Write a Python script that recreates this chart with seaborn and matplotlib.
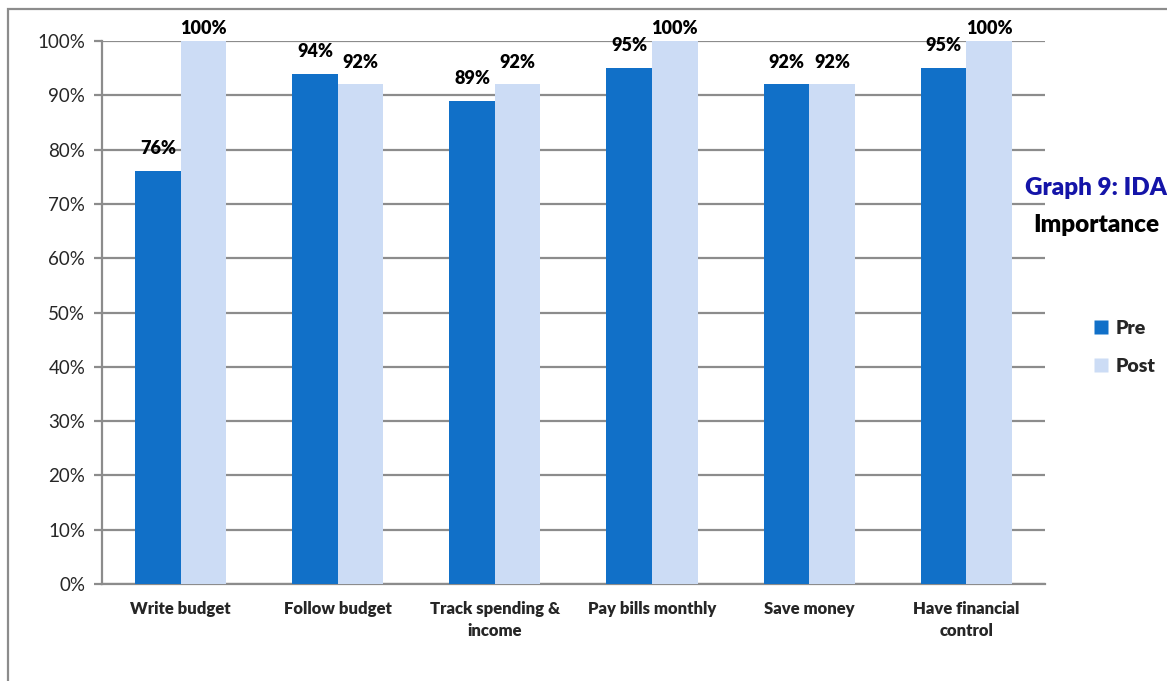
import matplotlib
matplotlib.use("Agg")
import matplotlib.pyplot as plt
from matplotlib.patches import Rectangle
from matplotlib.lines import Line2D
import seaborn as sns
import pandas as pd

categories = ["Write budget", "Follow budget", "Track spending &\nincome",
              "Pay bills monthly", "Save money", "Have financial\ncontrol"]
pre_values = [76, 94, 89, 95, 92, 95]
post_values = [100, 92, 92, 100, 92, 100]
series_names = ["Pre", "Post"]
y_ticks = [0, 10, 20, 30, 40, 50, 60, 70, 80, 90, 100]

pre_color = "#1170C8"
post_color = "#CCDCF5"
grid_color = "#8C8C8C"

sns.set_theme(style="white")
plt.rcParams["font.family"] = ["Lato", "DejaVu Sans"]
HEAVY = "heavy"

df = pd.DataFrame({
    "category": categories * 2,
    "value": pre_values + post_values,
    "series": [series_names[0]] * len(categories) + [series_names[1]] * len(categories),
})

fig = plt.figure(figsize=(11.67, 6.81), dpi=100)
ax = fig.add_axes([0.0874, 0.1424, 0.808, 0.7974])

sns.barplot(data=df, x="category", y="value", hue="series", order=categories,
            hue_order=series_names, palette=[pre_color, post_color],
            width=0.58, gap=0, saturation=1, legend=False, ax=ax, zorder=3)

for p in ax.patches:
    p.set_edgecolor("none")

ax.set_ylim(0, 100)
ax.set_xlim(-0.5, len(categories) - 0.5)

# value labels above bars; labels at the top of the scale sit closer to the bar
for container in ax.containers:
    for bar, v in zip(container, container.datavalues):
        offset = 3 if v >= ax.get_ylim()[1] else 10
        ax.annotate(f"{v:.0f}%", (bar.get_x() + bar.get_width() / 2, bar.get_height()),
                    xytext=(0, offset), textcoords="offset points",
                    ha="center", va="bottom", fontsize=13, fontweight=HEAVY,
                    color="black", annotation_clip=False, zorder=5)

ax.set_yticks(y_ticks)
ax.set_yticklabels([f"{t}%" for t in y_ticks], fontsize=13.5)
ax.yaxis.grid(True, color=grid_color, linewidth=1.6, zorder=0)
ax.set_axisbelow(True)

ax.set_xticks(range(len(categories)))
ax.set_xticklabels(categories, fontsize=12, fontweight=HEAVY, linespacing=1.5)
ax.set_xticks([i - 0.5 for i in range(len(categories) + 1)], minor=True)
ax.tick_params(axis="x", which="major", length=0, pad=12)
ax.tick_params(axis="x", which="minor", length=6, width=1.6, color=grid_color, direction="out")
ax.tick_params(axis="y", length=6, width=1.6, color=grid_color, direction="out", left=True, pad=6)
ax.set_xlabel("")
ax.set_ylabel("")

for side in ["top", "right"]:
    ax.spines[side].set_visible(False)
for side in ["left", "bottom"]:
    ax.spines[side].set_color(grid_color)
    ax.spines[side].set_linewidth(1.6)

# title at the right of the plot area
fig.text(0.939, 0.724, "Graph 9: IDA", ha="center", va="center",
         fontsize=17.5, fontweight=HEAVY, color="#1414A8")
fig.text(0.939, 0.670, "Importance", ha="center", va="center",
         fontsize=17.5, fontweight=HEAVY, color="black")

handles = [Line2D([0], [0], marker="s", linestyle="none", markersize=10,
                  markerfacecolor=c, markeredgecolor="none") for c in [pre_color, post_color]]
fig.legend(handles, series_names, loc="center left", bbox_to_anchor=(0.92, 0.49),
           frameon=False, prop={"size": 14, "weight": HEAVY},
           handletextpad=0.25, labelspacing=1.1, handlelength=1.0)

# outer chart border
fig.patches.append(Rectangle((8 / 1167, -0.1), 1.2, (681 - 9) / 681 + 0.1,
                             transform=fig.transFigure, fill=False,
                             edgecolor=grid_color, linewidth=1.6, zorder=0))

fig.savefig("out.png", dpi=100)
